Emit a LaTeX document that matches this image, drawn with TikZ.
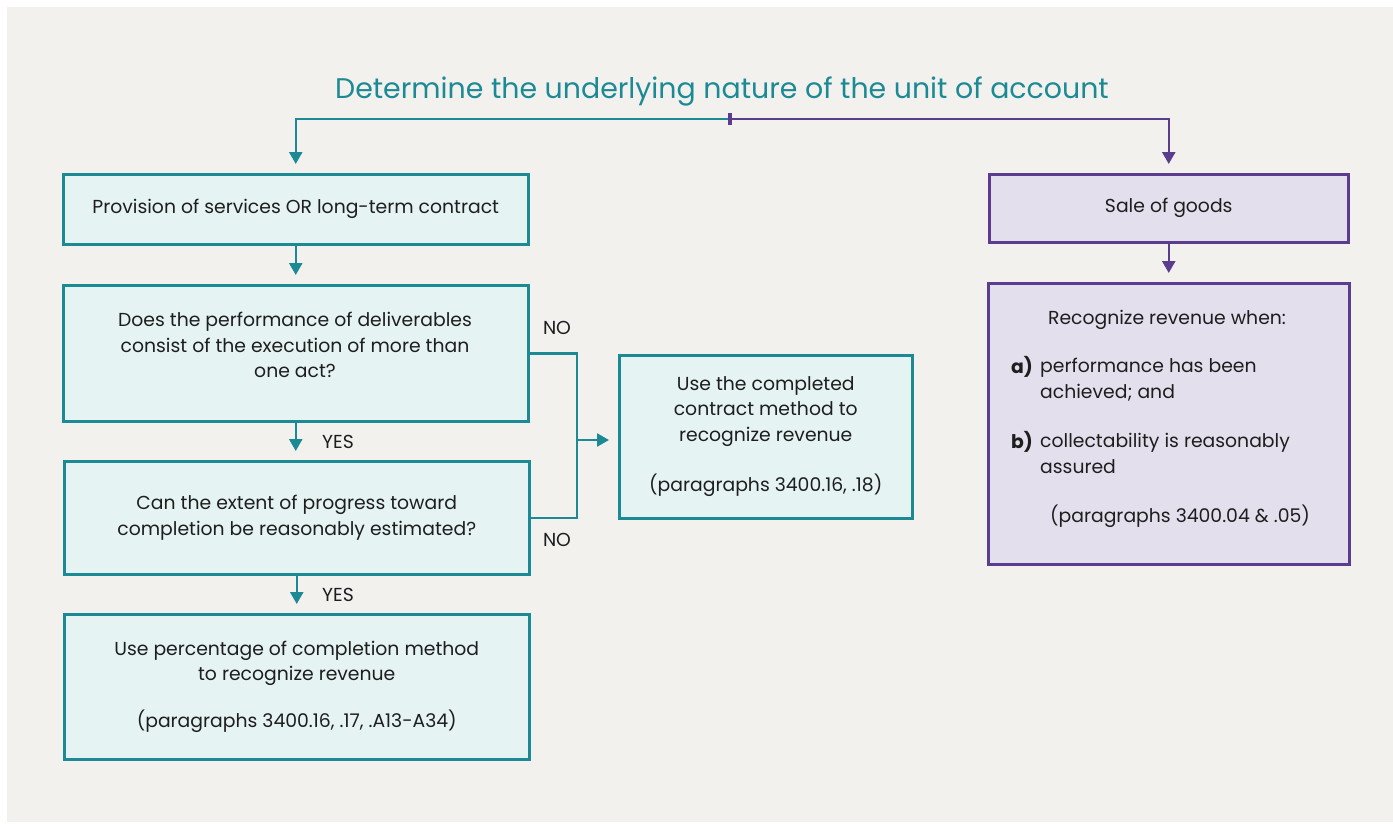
\documentclass[tikz,border=0pt]{standalone}
\usepackage{fontspec}
\setmainfont{Poppins}
\usetikzlibrary{arrows.meta}
\definecolor{bgc}{HTML}{F2F1EE}
\definecolor{tealc}{HTML}{1B8A94}
\definecolor{tealfill}{HTML}{E5F3F3}
\definecolor{purpc}{HTML}{5B3C8F}
\definecolor{purpfill}{HTML}{E3DFEC}
\definecolor{txtc}{HTML}{1E1E1E}
\begin{document}
\begin{tikzpicture}[x=1pt,y=-1pt,
  bodyfont/.style={font=\fontsize{18.8}{25.5}\selectfont, text=txtc},
  tbox/.style={draw=tealc, fill=tealfill, line width=2.5pt, inner sep=0pt, anchor=north west, align=center, bodyfont},
  pbox/.style={draw=purpc, fill=purpfill, line width=2.5pt, inner sep=0pt, anchor=north west, align=center, bodyfont},
  tline/.style={draw=tealc, line width=2.5pt},
  pline/.style={draw=purpc, line width=2.5pt},
  tarrow/.style={tline, -{Triangle[length=12pt,width=13pt]}, shorten >=9pt},
  parrow/.style={pline, -{Triangle[length=12pt,width=13pt]}, shorten >=9pt},
  lbl/.style={bodyfont, inner sep=0pt}
]
\fill[white] (0,0) rectangle (1393,825);
\fill[bgc] (7,7) rectangle (1393,822);
\useasboundingbox (0,0) rectangle (1393,825);

\node[font=\fontsize{28.4}{32}\selectfont, text=tealc, inner sep=0pt] (title) at (722,91) {Determine the underlying nature of the unit of account};

% left column
\node[tbox, minimum width=465pt, minimum height=70pt] (A) at (62,173) {Provision of services OR long-term contract};
\node[tbox, minimum width=465pt, minimum height=136pt] (B) at (62,284) {};
\node[lbl, align=center] (Bt) at (295,345) {Does the performance of deliverables\\consist of the execution of more than\\one act?};
\node[tbox, minimum width=465pt, minimum height=113pt] (C) at (63,460) {Can the extent of progress toward\\completion be reasonably estimated?};
\node[tbox, minimum width=465pt, minimum height=145pt] (D) at (63,613) {Use percentage of completion method\\to recognize revenue\\[21pt](paragraphs 3400.16, .17, .A13-A34)};
\node[tbox, minimum width=293pt, minimum height=163pt] (E) at (618,354) {Use the completed\\contract method to\\recognize revenue\\[25pt](paragraphs 3400.16, .18)};

% right column
\node[pbox, minimum width=359pt, minimum height=68pt] (F) at (988,173) {Sale of goods};
\node[pbox, minimum width=361pt, minimum height=281pt] (G) at (987,282) {};
\node[lbl, anchor=base] (g0) at (1167,324) {Recognize revenue when:};
\node[lbl, anchor=base west, font=\fontsize{18.8}{25.5}\selectfont\bfseries] (ga) at (1011,373) {a)};
\node[lbl, anchor=base west, align=left] (gat) at (1040,398) {performance has been\\achieved; and};
\node[lbl, anchor=base west, font=\fontsize{18.8}{25.5}\selectfont\bfseries] (gb) at (1011,448) {b)};
\node[lbl, anchor=base west, align=left] (gbt) at (1040,473) {collectability is reasonably\\assured};
\node[lbl, anchor=base] (gp) at (1180,522) {(paragraphs 3400.04 \& .05)};

% top split
\coordinate (T) at (730,119);
\draw[tarrow] (T) -| (A.north);
\draw[parrow] (T) -| (F.north);
\draw[purpc, line width=3.5pt] ([yshift=6pt]T) -- ([yshift=-6pt]T);

% left flow
\draw[tarrow] (A.south) -- (B.north);
\draw[tarrow] (B.south) -- (B.south |- C.north);
\draw[tarrow] (C.south) -- (C.south |- D.north);
\node[lbl] (yes1) at (338,442) {YES};
\node[lbl] (yes2) at (338,595) {YES};

% NO branch
\coordinate (J) at (577,440);
\draw[tline] (B.east) -| (J) |- (C.east);
\draw[tarrow] (J) -- (J -| E.west);
\node[lbl] (no1) at (557,328) {NO};
\node[lbl] (no2) at (557,540) {NO};

% right flow
\draw[parrow] (F.south) -- (F.south |- G.north);
\end{tikzpicture}
\end{document}
